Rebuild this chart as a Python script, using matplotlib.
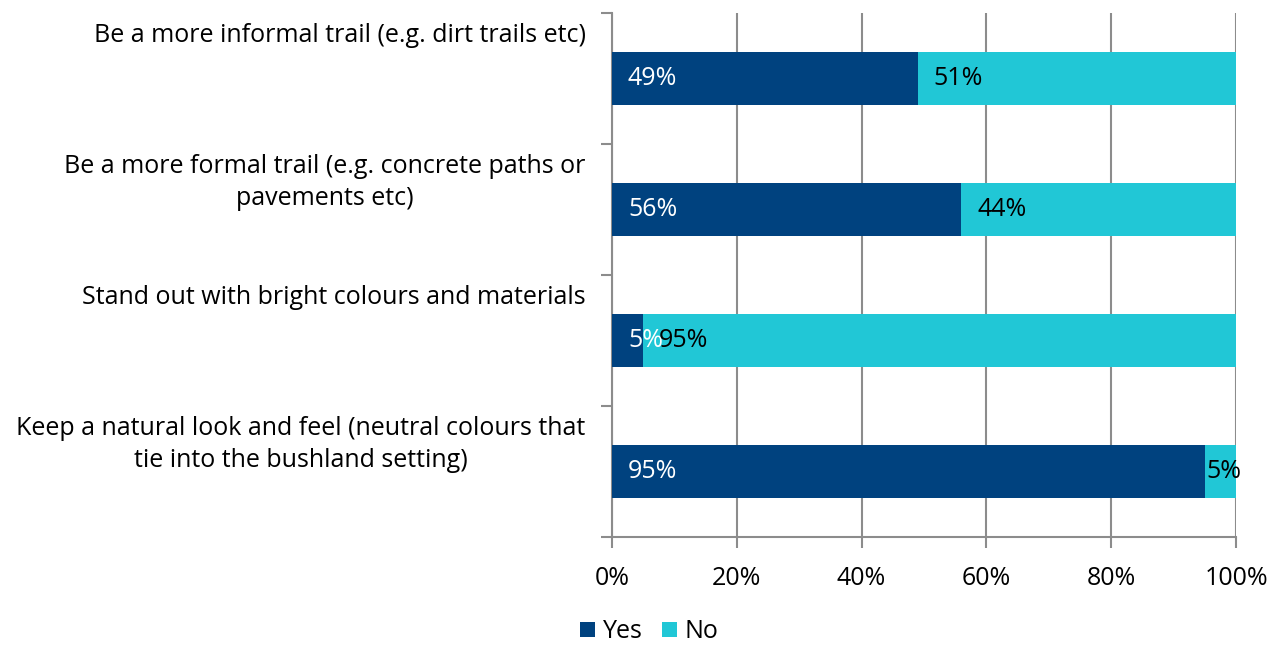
import matplotlib.pyplot as plt
from matplotlib.ticker import FixedLocator, PercentFormatter
from matplotlib.transforms import ScaledTranslation

plt.rcParams['font.family'] = ['Open Sans', 'DejaVu Sans']

categories = [
    "Be a more informal trail (e.g. dirt trails etc)",
    "Be a more formal trail (e.g. concrete paths or\npavements etc)",
    "Stand out with bright colours and materials",
    "Keep a natural look and feel (neutral colours that\ntie into the bushland setting)",
]
yes = [49, 56, 5, 95]
no = [51, 44, 95, 5]
xticks = [0, 20, 40, 60, 80, 100]

c_yes = "#00427f"
c_no = "#21c7d6"
grid_c = "#8c8c8c"
fs = 18

fig = plt.figure(figsize=(12.71, 6.46), dpi=100)
ax = fig.add_axes([0.4815, 0.1687, 0.491, 0.8112])

pos = list(range(len(categories)))
b1 = ax.barh(pos, yes, height=0.4, color=c_yes, label="Yes", zorder=3)
b2 = ax.barh(pos, no, left=yes, height=0.4, color=c_no, label="No", zorder=3)

ax.set_xlim(0, 100)
ax.set_ylim(len(categories) - 0.5, -0.5)

# data labels, "inside base"
for i in pos:
    off = ScaledTranslation(16 / 100, 0, fig.dpi_scale_trans)
    ax.text(0, i, f"{yes[i]}%", color="white", fontsize=fs, va="center",
            ha="left", transform=ax.transData + off, zorder=4)
    pad = 16 if no[i] >= 10 else 2
    off2 = ScaledTranslation(pad / 100, 0, fig.dpi_scale_trans)
    ax.text(yes[i], i, f"{no[i]}%", color="black", fontsize=fs, va="center",
            ha="left", transform=ax.transData + off2, zorder=4)

ax.set_xticks(xticks)
ax.xaxis.set_major_formatter(PercentFormatter(decimals=0))
ax.tick_params(axis="x", length=8, width=1.5, color=grid_c, labelsize=fs, pad=13)

# category labels hang from the boundary ticks
bounds = [p - 0.5 for p in range(len(categories) + 1)]
ax.yaxis.set_major_locator(FixedLocator(bounds))
ax.set_yticklabels(categories + [""])
ax.tick_params(axis="y", length=8, width=1.5, color=grid_c, labelsize=fs, pad=11)
shift = ScaledTranslation(0, -10 / 100, fig.dpi_scale_trans)
for lab in ax.get_yticklabels():
    lab.set_va("top")
    lab.set_multialignment("center")
    lab.set_linespacing(1.35)
    lab.set_transform(lab.get_transform() + shift)

ax.grid(axis="x", color=grid_c, linewidth=1.5, zorder=0)
for s in ["top", "right"]:
    ax.spines[s].set_visible(False)
for s in ["left", "bottom"]:
    ax.spines[s].set_color(grid_c)
    ax.spines[s].set_linewidth(1.5)

fig.legend(handles=[b1, b2], loc="center", bbox_to_anchor=(0.511, 0.022),
           ncol=2, frameon=False, fontsize=fs, handlelength=0.6,
           handleheight=0.6, handletextpad=0.3, columnspacing=0.8,
           borderpad=0.1)

fig.savefig("out.png", dpi=100)
